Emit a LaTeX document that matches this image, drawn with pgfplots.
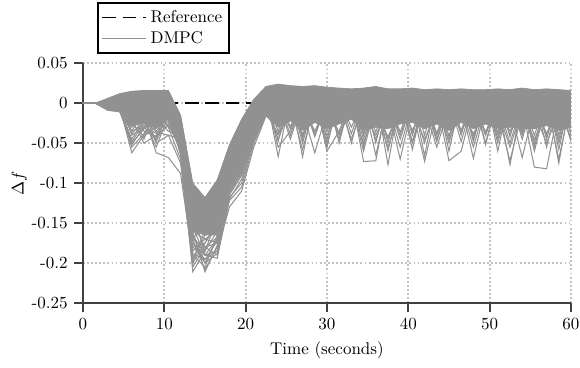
\documentclass[border=0pt]{standalone}
\usepackage{pgfplots}
\usepackage{pgfplotstable}
\pgfplotsset{compat=1.18}
\definecolor{dmpc}{RGB}{145,145,145}
\definecolor{axgray}{RGB}{64,64,64}
\definecolor{gridgray}{RGB}{195,195,195}

\pgfplotstableread{
t U D l1 l2 l3 l4 l5 l6 l7 l8 l9 l10 l11 l12 l13 l14 l15 l16 l17 l18 l19 l20 l21 l22 l23 l24 l25 l26 l27 l28 l29 l30
0 0 0 0 0 0 0 0 0 0 0 0 0 0 0 0 0 0 0 0 0 0 0 0 0 0 0 0 0 0 0 0 0
1.5 0 0 0 0 0 0 0 0 0 0 0 0 0 0 0 0 0 0 0 0 0 0 0 0 0 0 0 0 0 0 0 0
3 0.006 -0.009 0.005 0.003 0.002 0.000 -0.002 -0.004 -0.003 -0.006 0.001 -0.001 0.002 -0.002 0.001 -0.001 0.003 -0.005 0.000 -0.003 0.002 -0.008 0.002 -0.004 0.001 -0.006 0.000 0.003 -0.002 -0.001 0.002 -0.003
4.5 0.012 -0.011 0.011 0.009 0.007 0.004 -0.004 -0.006 -0.005 -0.009 0.003 0.000 0.005 0.001 0.006 0.002 0.008 -0.008 0.004 -0.002 0.006 -0.010 0.006 -0.007 0.004 -0.010 0.002 0.008 -0.003 0.001 0.005 -0.006
6 0.015 -0.028 0.014 0.012 0.010 0.006 -0.062 -0.055 -0.045 -0.048 -0.010 -0.020 0.000 -0.005 0.008 -0.015 0.011 -0.030 0.002 -0.025 0.004 -0.035 -0.040 -0.020 -0.035 -0.050 0.000 0.006 -0.038 -0.025 -0.005 -0.052
7.5 0.016 -0.025 0.015 0.013 0.011 0.008 -0.040 -0.038 -0.020 -0.025 -0.045 -0.015 -0.010 0.002 0.004 -0.008 0.010 -0.020 0.006 -0.012 0.009 -0.028 -0.030 -0.050 -0.010 -0.032 -0.035 0.005 -0.022 -0.042 0.003 -0.030
9 0.016 -0.032 0.015 0.013 0.012 0.009 -0.010 -0.015 -0.055 -0.045 -0.005 -0.062 -0.050 -0.020 -0.008 -0.025 0.006 -0.030 0.004 -0.035 0.010 -0.038 -0.020 -0.040 -0.048 -0.010 -0.042 -0.030 -0.036 -0.028 -0.012 -0.045
10.5 0.016 -0.020 0.015 0.014 0.012 0.010 0.004 0.000 -0.015 -0.010 0.008 -0.068 -0.040 -0.035 -0.012 0.002 0.009 -0.005 0.007 -0.018 0.011 -0.022 0.000 -0.028 -0.010 -0.030 -0.005 0.004 -0.040 -0.015 0.006 -0.025
12 -0.015 -0.060 -0.016 -0.024 -0.030 -0.035 -0.040 -0.045 -0.050 -0.055 -0.032 -0.088 -0.045 -0.040 -0.065 -0.060 -0.055 -0.050 -0.045 -0.035 -0.052 -0.058 -0.034 -0.055 -0.040 -0.070 -0.045 -0.026 -0.075 -0.050 -0.034 -0.060
13.5 -0.100 -0.160 -0.102 -0.115 -0.125 -0.135 -0.145 -0.150 -0.160 -0.170 -0.140 -0.195 -0.175 -0.165 -0.185 -0.211 -0.200 -0.190 -0.175 -0.160 -0.180 -0.170 -0.130 -0.180 -0.155 -0.205 -0.165 -0.135 -0.198 -0.170 -0.150 -0.188
15 -0.118 -0.165 -0.119 -0.130 -0.140 -0.150 -0.160 -0.165 -0.170 -0.150 -0.185 -0.160 -0.200 -0.190 -0.170 -0.185 -0.175 -0.205 -0.190 -0.211 -0.195 -0.180 -0.150 -0.175 -0.190 -0.180 -0.200 -0.160 -0.165 -0.208 -0.180 -0.196
16.5 -0.096 -0.165 -0.098 -0.110 -0.120 -0.130 -0.140 -0.150 -0.160 -0.165 -0.145 -0.140 -0.170 -0.185 -0.175 -0.160 -0.150 -0.165 -0.194 -0.178 -0.185 -0.168 -0.135 -0.150 -0.170 -0.175 -0.188 -0.145 -0.155 -0.180 -0.190 -0.172
18 -0.052 -0.105 -0.054 -0.065 -0.075 -0.085 -0.090 -0.095 -0.100 -0.105 -0.080 -0.090 -0.098 -0.108 -0.112 -0.100 -0.095 -0.102 -0.122 -0.108 -0.130 -0.118 -0.085 -0.100 -0.105 -0.110 -0.115 -0.092 -0.095 -0.112 -0.120 -0.108
19.5 -0.020 -0.085 -0.022 -0.035 -0.045 -0.055 -0.065 -0.070 -0.080 -0.085 -0.060 -0.050 -0.075 -0.088 -0.090 -0.070 -0.060 -0.078 -0.105 -0.082 -0.110 -0.100 -0.055 -0.075 -0.070 -0.080 -0.090 -0.062 -0.068 -0.085 -0.095 -0.076
21 0.005 -0.042 0.004 -0.005 -0.010 -0.015 -0.020 -0.025 -0.030 -0.035 -0.018 -0.012 -0.028 -0.040 -0.042 -0.030 -0.020 -0.032 -0.050 -0.036 -0.055 -0.045 -0.015 -0.030 -0.025 -0.038 -0.045 -0.020 -0.028 -0.040 -0.048 -0.034
22.5 0.021 -0.016 0.020 0.015 0.012 0.008 0.005 0.002 -0.002 -0.005 0.010 0.006 0.003 -0.010 -0.012 0.000 0.006 -0.004 -0.014 -0.008 -0.016 -0.012 0.008 -0.006 0.002 -0.010 -0.012 0.004 -0.002 -0.010 -0.014 -0.008
24 0.024 -0.030 0.023 0.012 -0.067 -0.055 0.010 0.002 0.006 -0.002 -0.048 0.000 0.007 -0.040 0.009 0.003 0.011 -0.008 0.005 0.001 0.013 -0.038 0.006 -0.045 0.010 -0.010 0.004 -0.035 -0.012 0.002 0.011 -0.004
25.5 0.022 -0.022 0.021 0.012 0.008 -0.035 0.010 -0.045 0.006 -0.002 0.012 0.000 0.007 -0.005 0.009 0.003 0.011 -0.008 0.005 -0.032 0.013 -0.003 -0.040 -0.006 0.010 -0.010 0.004 0.008 -0.012 0.002 -0.030 -0.004
27 0.021 -0.034 0.020 0.012 0.008 0.004 -0.067 0.002 0.006 -0.058 0.012 0.000 -0.050 -0.005 -0.045 0.003 0.011 -0.040 0.005 0.001 0.013 -0.003 0.006 -0.006 -0.042 -0.010 0.004 0.008 -0.038 0.002 0.011 -0.004
28.5 0.022 -0.024 0.021 0.012 0.008 0.004 0.010 -0.040 0.006 -0.002 0.012 0.000 0.007 -0.005 0.009 -0.042 0.011 -0.008 0.005 0.001 0.013 -0.035 0.006 -0.006 0.010 -0.062 0.004 0.008 -0.012 0.002 0.011 -0.036
30 0.020 -0.032 0.019 0.012 -0.045 0.004 0.010 0.002 -0.060 -0.002 0.012 0.000 0.007 -0.040 0.009 0.003 -0.055 -0.008 0.005 0.001 0.013 -0.003 0.006 -0.035 0.010 -0.010 0.004 0.008 -0.012 -0.050 0.011 -0.004
31.5 0.019 -0.026 0.018 0.012 0.008 0.004 0.010 0.002 -0.035 -0.002 -0.050 0.000 0.007 -0.005 0.009 0.003 0.011 -0.040 0.005 -0.038 0.013 -0.003 0.006 -0.006 0.010 -0.010 -0.045 0.008 -0.012 0.002 0.011 -0.004
33 0.018 -0.020 0.017 0.012 0.008 0.004 0.010 0.002 0.006 -0.002 0.012 -0.045 0.007 -0.005 0.009 0.003 0.011 -0.008 -0.030 0.001 0.013 -0.003 -0.038 -0.006 0.010 -0.010 0.004 -0.050 -0.012 0.002 0.011 -0.004
34.5 0.019 -0.034 0.018 -0.038 0.008 -0.045 0.010 0.002 0.006 -0.002 0.012 0.000 -0.073 -0.050 0.009 0.003 0.011 -0.008 0.005 -0.060 0.013 -0.003 0.006 -0.006 -0.055 -0.010 0.004 0.008 -0.012 0.002 -0.040 -0.004
36 0.021 -0.030 0.020 0.012 0.008 0.004 0.010 0.002 0.006 -0.002 0.012 0.000 -0.072 -0.005 0.009 -0.036 0.011 -0.008 0.005 0.001 -0.050 -0.045 0.006 -0.006 0.010 -0.040 0.004 0.008 -0.012 -0.065 0.011 -0.004
37.5 0.018 -0.032 0.017 0.012 -0.060 0.004 -0.050 0.002 0.006 -0.002 0.012 0.000 0.007 -0.005 -0.077 0.003 0.011 -0.042 0.005 0.001 0.013 -0.003 0.006 -0.045 0.010 -0.010 0.004 0.008 -0.055 0.002 0.011 -0.004
39 0.018 -0.026 0.017 0.012 0.008 0.004 0.010 0.002 0.006 -0.055 0.012 0.000 0.007 -0.005 0.009 -0.045 0.011 -0.008 -0.036 0.001 0.013 -0.003 0.006 -0.006 0.010 -0.010 -0.040 0.008 -0.012 0.002 0.011 -0.070
40.5 0.019 -0.024 0.018 0.012 0.008 0.004 0.010 -0.050 0.006 -0.002 -0.040 0.000 0.007 -0.005 0.009 0.003 -0.058 -0.008 0.005 0.001 0.013 -0.034 -0.048 -0.006 0.010 -0.010 0.004 -0.036 -0.012 0.002 0.011 -0.004
42 0.017 -0.032 0.016 -0.040 0.008 0.004 0.010 0.002 0.006 -0.002 0.012 -0.050 0.007 -0.005 0.009 0.003 0.011 -0.073 0.005 0.001 0.013 -0.003 0.006 -0.006 0.010 -0.045 0.004 0.008 -0.012 0.002 -0.066 -0.004
43.5 0.018 -0.026 0.017 0.012 0.008 -0.040 0.010 0.002 0.006 -0.002 0.012 0.000 0.007 -0.055 0.009 0.003 0.011 -0.008 -0.045 0.001 0.013 -0.003 0.006 -0.006 -0.038 -0.010 0.004 0.008 -0.012 -0.048 0.011 -0.004
45 0.017 -0.034 0.016 0.012 0.008 0.004 -0.060 0.002 -0.050 -0.002 0.012 0.000 -0.042 -0.005 0.009 0.003 0.011 -0.008 0.005 -0.072 0.013 -0.003 0.006 -0.040 0.010 -0.010 0.004 0.008 -0.045 0.002 0.011 -0.004
46.5 0.018 -0.024 0.017 0.012 -0.034 0.004 0.010 0.002 0.006 -0.002 0.012 0.000 0.007 -0.005 0.009 0.003 0.011 -0.008 0.005 -0.060 -0.040 -0.003 0.006 -0.006 0.010 -0.010 -0.048 0.008 -0.012 0.002 0.011 -0.036
48 0.017 -0.032 0.016 0.012 0.008 0.004 0.010 0.002 0.006 -0.055 0.012 0.000 0.007 -0.005 -0.048 0.003 0.011 -0.040 0.005 0.001 0.013 -0.069 0.006 -0.006 0.010 -0.038 0.004 0.008 -0.012 0.002 -0.045 -0.004
49.5 0.017 -0.026 0.016 0.012 -0.050 0.004 0.010 0.002 0.006 -0.002 0.012 -0.036 0.007 -0.005 0.009 -0.040 0.011 -0.008 0.005 0.001 0.013 -0.003 -0.052 -0.006 0.010 -0.010 0.004 -0.040 -0.012 0.002 0.011 -0.004
51 0.018 -0.032 0.017 0.012 0.008 0.004 0.010 0.002 -0.040 -0.002 -0.060 0.000 0.007 -0.005 0.009 0.003 -0.045 -0.008 0.005 0.001 0.013 -0.003 0.006 -0.006 -0.050 -0.010 0.004 0.008 -0.012 -0.036 0.011 -0.004
52.5 0.017 -0.030 0.016 0.012 0.008 0.004 0.010 -0.077 0.006 -0.002 0.012 -0.050 0.007 -0.005 0.009 0.003 0.011 -0.055 0.005 0.001 -0.042 -0.003 0.006 -0.006 0.010 -0.010 -0.040 0.008 -0.072 0.002 0.011 -0.035
54 0.019 -0.032 0.018 -0.036 0.008 0.004 0.010 0.002 0.006 -0.002 0.012 0.000 -0.045 -0.005 0.009 0.003 0.011 -0.008 -0.040 0.001 0.013 -0.003 0.006 -0.068 0.010 -0.010 0.004 0.008 -0.012 0.002 -0.038 -0.004
55.5 0.017 -0.032 0.016 0.012 0.008 -0.050 0.010 0.002 0.006 -0.002 0.012 0.000 0.007 -0.080 0.009 -0.040 0.011 -0.008 0.005 -0.060 0.013 -0.003 0.006 -0.006 0.010 -0.045 0.004 0.008 -0.012 -0.055 0.011 -0.004
57 0.018 -0.028 0.017 0.012 0.008 0.004 -0.045 0.002 0.006 -0.002 0.012 0.000 0.007 -0.082 -0.055 0.003 0.011 -0.008 0.005 0.001 0.013 -0.038 -0.040 -0.006 0.010 -0.010 0.004 0.008 -0.050 0.002 0.011 -0.004
58.5 0.017 -0.034 0.016 0.012 0.008 0.004 0.010 0.002 -0.050 -0.002 -0.040 0.000 0.007 -0.005 0.009 -0.070 0.011 -0.008 0.005 0.001 -0.058 -0.003 0.006 -0.006 -0.045 -0.010 0.004 -0.075 -0.012 0.002 0.011 -0.004
60 0.016 -0.030 0.015 0.012 0.008 0.004 0.010 0.002 0.006 -0.045 0.012 0.000 0.007 -0.005 0.009 0.003 -0.040 -0.008 0.005 0.001 0.013 -0.035 0.006 -0.006 0.010 -0.010 -0.048 0.008 -0.012 0.002 0.011 -0.045
}\data

% dense part of the band: upper edge forward, lower edge backward
\pgfplotstableread{
x y
0 0
1.5 0
3 0.006
4.5 0.012
6 0.015
7.5 0.016
9 0.016
10.5 0.016
12 -0.015
13.5 -0.100
15 -0.118
16.5 -0.096
18 -0.052
19.5 -0.020
21 0.005
22.5 0.021
24 0.024
25.5 0.022
27 0.021
28.5 0.022
30 0.020
31.5 0.019
33 0.018
34.5 0.019
36 0.021
37.5 0.018
39 0.018
40.5 0.019
42 0.017
43.5 0.018
45 0.017
46.5 0.018
48 0.017
49.5 0.017
51 0.018
52.5 0.017
54 0.019
55.5 0.017
57 0.018
58.5 0.017
60 0.016
60 -0.030
58.5 -0.034
57 -0.028
55.5 -0.032
54 -0.032
52.5 -0.030
51 -0.032
49.5 -0.026
48 -0.032
46.5 -0.024
45 -0.034
43.5 -0.026
42 -0.032
40.5 -0.024
39 -0.026
37.5 -0.032
36 -0.030
34.5 -0.034
33 -0.020
31.5 -0.026
30 -0.032
28.5 -0.024
27 -0.034
25.5 -0.022
24 -0.030
22.5 -0.016
21 -0.042
19.5 -0.085
18 -0.105
16.5 -0.165
15 -0.165
13.5 -0.160
12 -0.060
10.5 -0.020
9 -0.032
7.5 -0.025
6 -0.028
4.5 -0.011
3 -0.009
1.5 0
0 0
}\band

\begin{document}
\begin{tikzpicture}
\begin{axis}[
  scale only axis, width=287pt, height=141pt,
  xmin=0, xmax=60, ymin=-0.25, ymax=0.05,
  axis lines=left,
  axis line style={-, line width=1.2pt, axgray},
  xtick={0,10,20,30,40,50,60},
  xticklabels={0,10,20,30,40,50,60},
  ytick={-0.25,-0.2,-0.15,-0.1,-0.05,0,0.05},
  yticklabels={-0.25,-0.2,-0.15,-0.1,-0.05,0,0.05},
  tick align=outside, major tick length=5.5pt,
  tick style={line width=1.2pt, axgray},
  grid=major,
  grid style={gridgray, line width=1.1pt, dash pattern=on 1.1pt off 1.3pt},
  xlabel={Time (seconds)}, ylabel={$\Delta f$},
  ylabel shift=-4pt,
  legend image code/.code={\draw[#1] (0pt,0pt) -- (26pt,0pt);},
  legend cell align=left,
  legend style={at={(0.0286,1.039)}, anchor=south west, draw=black, line width=1.3pt, inner sep=2pt},
]
\addplot[black, line width=0.9pt, dash pattern=on 8pt off 4pt] coordinates {(0,0) (60,0)};
\addlegendentry{Reference}
\addplot[fill=dmpc, draw=dmpc, line width=0.4pt, forget plot] table[x=x,y=y]{\band};
\addplot[dmpc, line width=0.6pt] table[x=t,y=l1]{\data};
\addlegendentry{DMPC}
\pgfplotsinvokeforeach{2,...,30}{
  \addplot[dmpc, line width=0.6pt, forget plot] table[x=t,y=l#1]{\data};
}
\coordinate (bl) at (rel axis cs:0,0);
\coordinate (tr) at (rel axis cs:1,1);
\end{axis}
\pgfresetboundingbox
\path[use as bounding box] ([xshift=-48.8pt,yshift=-37.8pt]bl) rectangle ([xshift=5.3pt,yshift=37.2pt]tr);
\end{tikzpicture}
\end{document}
